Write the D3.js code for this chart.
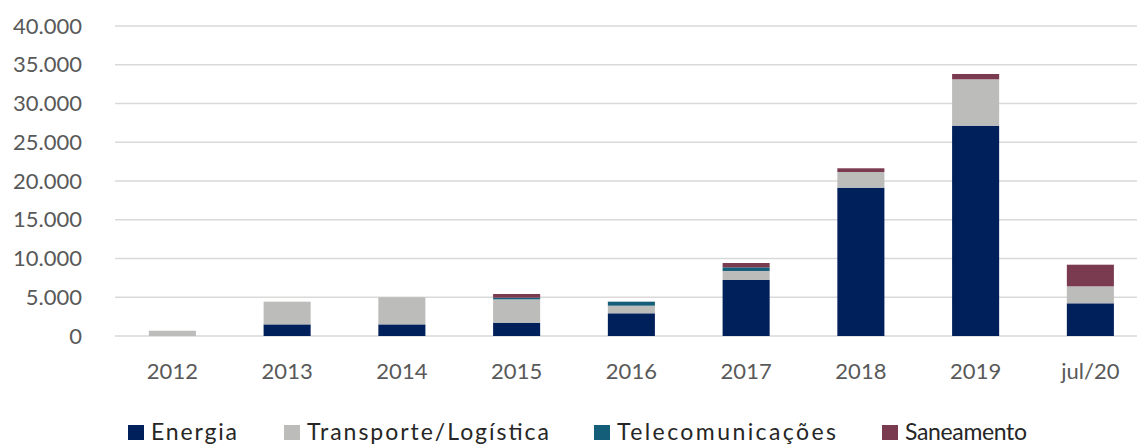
<!DOCTYPE html>
<html>
<head>
<meta charset="utf-8">
<script src="https://cdnjs.cloudflare.com/ajax/libs/d3/7.8.5/d3.min.js"></script>
<style>
  html, body { margin: 0; padding: 0; background: #fff; }
  svg { display: block; font-family: Lato, "Open Sans", sans-serif; }
</style>
</head>
<body>
<div class="chart"></div>
<script>
const categories = ['2012', '2013', '2014', '2015', '2016', '2017', '2018', '2019', 'jul/20'];
const energia    = [0, 1500, 1500, 1720, 2930, 7230, 19140, 27140, 4220];
const transporte = [680, 2930, 3500, 3010, 980, 1160, 2020, 5980, 2190];
const telecom    = [0, 0, 0, 210, 520, 470, 0, 0, 0];
const saneamento = [0, 0, 0, 480, 0, 560, 480, 690, 2790];
const seriesNames = ['Energia', 'Transporte/Logística', 'Telecomunicações', 'Saneamento'];
const yTicks = [0, 5000, 10000, 15000, 20000, 25000, 30000, 35000, 40000];

const colors = ['#00205b', '#bcbdbb', '#155e7a', '#7a3a50'];
const width = 1137, height = 445;

const svg = d3.select('.chart').append('svg')
  .attr('width', width)
  .attr('height', height);

// rows for the stack
const rows = categories.map((c, i) => ({
  cat: c,
  'Energia': energia[i],
  'Transporte/Logística': transporte[i],
  'Telecomunicações': telecom[i],
  'Saneamento': saneamento[i]
}));
const stacked = d3.stack().keys(seriesNames)(rows);

const x = d3.scaleBand()
  .domain(categories)
  .range([115, 115 + 9 * 114.75])
  .paddingInner(0.59)
  .paddingOuter(0.295);

const y = d3.scaleLinear()
  .domain([0, 40000])
  .range([336, 26]);

const ptBR = d3.formatLocale({ decimal: ',', thousands: '.', grouping: [3], currency: ['R$', ''] });
const fmt = ptBR.format(',d');

// gridlines
svg.append('g')
  .selectAll('line')
  .data(yTicks)
  .join('line')
  .attr('x1', 115)
  .attr('x2', width)
  .attr('y1', d => y(d))
  .attr('y2', d => y(d))
  .style('stroke', '#d9d9d9')
  .style('stroke-width', 1.5);

// y axis labels
const yAxis = svg.append('g')
  .attr('transform', 'translate(82,0)')
  .call(d3.axisLeft(y).tickValues(yTicks).tickFormat(fmt).tickSize(0).tickPadding(0));
yAxis.select('.domain').remove();
yAxis.selectAll('text')
  .style('font-family', 'Lato, sans-serif')
  .style('font-size', '22px')
  .style('fill', '#595959');

// x axis labels
const xAxis = svg.append('g')
  .attr('transform', 'translate(0,336)')
  .call(d3.axisBottom(x).tickSize(0).tickPadding(0));
xAxis.select('.domain').remove();
xAxis.selectAll('text')
  .attr('dy', null)
  .attr('y', 43)
  .style('font-family', 'Lato, sans-serif')
  .style('font-size', '22px')
  .style('fill', '#595959');

// bars
svg.append('g')
  .selectAll('g')
  .data(stacked)
  .join('g')
  .style('fill', (d, i) => colors[i])
  .selectAll('rect')
  .data(d => d)
  .join('rect')
  .attr('x', d => x(d.data.cat))
  .attr('width', x.bandwidth())
  .attr('y', d => y(d[1]))
  .attr('height', d => y(d[0]) - y(d[1]));

// legend
const legendX = [128, 284, 594, 882];
const legendW = [86, 242, 219, 122];
const legend = svg.append('g')
  .selectAll('g')
  .data(seriesNames)
  .join('g')
  .attr('transform', (d, i) => `translate(${legendX[i]},424)`);

legend.append('rect')
  .attr('y', 1)
  .attr('width', 16)
  .attr('height', 15)
  .style('fill', (d, i) => colors[i]);

legend.append('text')
  .attr('x', 23)
  .attr('y', 16)
  .attr('textLength', (d, i) => legendW[i])
  .attr('lengthAdjust', 'spacing')
  .text(d => d)
  .style('font-family', 'Lato, sans-serif')
  .style('font-size', '23px')
  .style('fill', '#262626');
</script>
</body>
</html>
